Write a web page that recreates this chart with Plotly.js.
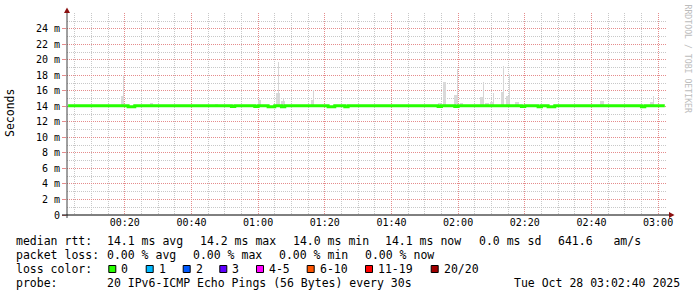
<!DOCTYPE html>
<html><head><meta charset="utf-8">
<script src="https://cdn.plot.ly/plotly-3.0.1.min.js"></script>
<style>html,body{margin:0;padding:0;background:#fff}#chart{width:697px;height:297px}</style>
</head><body><div id="chart"></div>
<script>
// ---------------- data ----------------
const timeTickVals = ['2025-10-28 00:20:00','2025-10-28 00:40:00','2025-10-28 01:00:00','2025-10-28 01:20:00',
  '2025-10-28 01:40:00','2025-10-28 02:00:00','2025-10-28 02:20:00','2025-10-28 02:40:00','2025-10-28 03:00:00'];
const timeTickLabels = ['00:20','00:40','01:00','01:20','01:40','02:00','02:20','02:40','03:00'];
const yTickVals = [0,2,4,6,8,10,12,14,16,18,20,22,24];
const yTickLabels = ['0','2 m','4 m','6 m','8 m','10 m','12 m','14 m','16 m','18 m','20 m','22 m','24 m'];

// median RTT (ms), one value per minute starting 00:03
const medianStart = '2025-10-28 00:03:00';
const medianRtt = [
  14.1,14.1,14.1,14.1,14.1,14.1,14.1,14.1,14.1,14.1,
  14.1,14.1,14.1,14.1,14.1,14.1,14.1,14.1,13.95,13.95,
  14.1,14.1,14.1,14.1,14.1,14.1,14.1,14.1,14.1,14.1,
  14.1,14.1,14.1,14.1,14.1,14.1,14.1,14.1,14.1,14.1,
  14.1,14.1,14.1,14.1,14.1,14.1,14.1,14.1,14.1,14.0,
  14.1,14.1,14.1,14.1,14.1,14.1,14.0,14.1,14.1,14.1,
  13.95,13.95,14.1,14.1,13.95,14.1,14.1,14.1,14.1,14.1,
  14.1,14.1,14.1,14.1,14.1,14.1,14.1,14.1,13.95,13.95,
  14.1,14.1,14.1,13.95,14.1,14.1,14.1,14.1,14.1,14.1,
  14.1,14.1,14.1,14.1,14.1,14.1,14.1,14.1,14.1,14.1,
  14.1,14.1,14.1,14.1,14.1,14.1,14.1,14.1,14.1,14.1,
  14.1,14.0,14.1,14.1,14.1,14.1,14.0,14.1,14.1,14.1,
  14.1,14.1,14.1,14.1,14.1,14.1,14.1,14.1,14.1,14.1,
  14.1,14.1,14.1,14.1,14.1,14.1,14.0,14.1,14.1,14.1,
  14.1,13.95,14.1,14.1,13.95,13.95,14.1,14.1,14.1,14.1,
  14.1,14.1,14.1,14.1,14.1,14.1,14.1,14.1,14.1,14.1,
  14.1,14.1,14.1,14.1,14.1,14.1,14.1,14.1,14.1,14.1,
  14.1,14.1,13.95,14.1,14.1,14.1,14.1,14.1,14.1,14.1
];

// smoke (ping spread, ms): broader low blocks and thin tall spikes
const smokeBase = 14.0;
const smokeBlockTimes = ['2025-10-28 00:19:20','2025-10-28 00:28:00','2025-10-28 00:47:30','2025-10-28 01:00:30',
  '2025-10-28 01:06:00','2025-10-28 01:07:30','2025-10-28 01:16:20','2025-10-28 01:54:30','2025-10-28 01:56:00',
  '2025-10-28 01:59:15','2025-10-28 02:01:00','2025-10-28 02:07:00','2025-10-28 02:08:40','2025-10-28 02:10:00',
  '2025-10-28 02:13:20','2025-10-28 02:15:00','2025-10-28 02:17:40','2025-10-28 02:43:10','2025-10-28 02:58:00'];
const smokeBlockTop = [15.3,14.5,14.3,14.8,15.8,14.7,14.8,14.4,17.1,15.5,14.4,15.2,14.4,14.6,15.9,15.4,14.6,14.7,14.6];
const smokeSpikeTimes = ['2025-10-28 00:19:40','2025-10-28 01:06:10','2025-10-28 01:07:40','2025-10-28 01:16:40',
  '2025-10-28 01:59:50','2025-10-28 02:07:40','2025-10-28 02:10:40','2025-10-28 02:13:40','2025-10-28 02:15:30',
  '2025-10-28 02:58:30'];
const smokeSpikeTop = [18.0,19.7,15.0,16.1,18.9,17.2,15.8,19.2,18.2,15.3];

// legend texts
const statsRtt = ['median rtt:','14.1 ms avg','14.2 ms max','14.0 ms min','14.1 ms now','0.0 ms sd','641.6   am/s'];
const statsLoss = ['packet loss:','0.00 % avg','0.00 % max','0.00 % min','0.00 % now'];
const lossLabels = ['0','1','2','3','4-5','6-10','11-19','20/20'];
const lossColors = ['#26ff00','#00b8ff','#0059ff','#5e00ff','#ff00ff','#ff5500','#ff0000','#a10000'];
const probeText = ['probe:','20 IPv6-ICMP Echo Pings (56 Bytes) every 30s'];
const dateText = 'Tue Oct 28 03:02:40 2025';

// ---------------- layout helpers ----------------
const L = 67, R = 667, T = 13, B = 215;
const px = x => (x - L) / (R - L);
const py = y => (B - y) / (B - T);
const MONO = 'DejaVu Sans Mono';
function txt(s, x, y, extra) {
  return Object.assign({text: s, xref: 'paper', yref: 'paper', x: px(x), y: py(y),
    xanchor: 'left', yanchor: 'middle', showarrow: false, borderpad: 0, borderwidth: 0,
    font: {family: MONO, size: 11.5, color: '#000'}}, extra || {});
}

const traces = [
  {type: 'bar', x: smokeBlockTimes, y: smokeBlockTop.map(v => v - smokeBase), base: smokeBase,
   width: 60000, marker: {color: '#d9d9d9', line: {width: 0}}, hoverinfo: 'skip'},
  {type: 'bar', x: smokeSpikeTimes, y: smokeSpikeTop.map(v => v - smokeBase), base: smokeBase,
   width: 22000, marker: {color: '#d6d6d6', line: {width: 0}}, hoverinfo: 'skip'},
  {type: 'scatter', mode: 'lines', x0: medianStart, dx: 60000, y: medianRtt,
   line: {shape: 'hv', color: '#26ff00', width: 3}, hoverinfo: 'skip'}
];

const annotations = [];
const rttX = [16, 107.3, 200, 292.5, 385, 478.5, 557.8];
statsRtt.forEach((s, i) => annotations.push(txt(s, rttX[i], 241)));
const lossX = [16, 107.3, 193.3, 279.3, 365];
statsLoss.forEach((s, i) => annotations.push(txt(s, lossX[i], 255)));
annotations.push(txt('loss color:', 16, 269));
const boxX = [108.3, 145.7, 182.7, 219.3, 256, 306.7, 365, 430.7];
const shapes = [];
lossLabels.forEach((s, i) => {
  annotations.push(txt(s, boxX[i] + 13, 269));
  shapes.push({type: 'rect', xref: 'paper', yref: 'paper', x0: px(boxX[i] + 0.5), x1: px(boxX[i] + 7.5),
    y0: py(265.5), y1: py(272.5), fillcolor: lossColors[i], line: {color: '#000', width: 1}});
});
annotations.push(txt(probeText[0], 16, 283));
annotations.push(txt(probeText[1], 107.3, 283));
annotations.push(txt(dateText, 680, 283, {xanchor: 'right'}));
annotations.push(txt('Seconds', 10, 113, {xanchor: 'center', textangle: -90, font: {family: MONO, size: 11.5, color: '#000'}}));
annotations.push(txt('RRDTOOL / TOBI OETIKER', 687.5, 59, {xanchor: 'center', textangle: 90, font: {family: MONO, size: 8.2, color: '#bcbcbc'}}));

// axis lines and arrows
shapes.push({type: 'line', xref: 'paper', yref: 'paper', x0: px(67), x1: px(67), y0: py(218), y1: py(11), line: {color: '#404040', width: 1}});
shapes.push({type: 'line', xref: 'paper', yref: 'paper', x0: px(62), x1: px(670), y0: py(215), y1: py(215), line: {color: '#000', width: 1}});
shapes.push({type: 'path', xref: 'paper', yref: 'paper',
  path: `M ${px(64)} ${py(13)} L ${px(67)} ${py(7.5)} L ${px(70)} ${py(13)} Z`, fillcolor: '#8b1010', line: {width: 0}});
shapes.push({type: 'path', xref: 'paper', yref: 'paper',
  path: `M ${px(669)} ${py(212)} L ${px(674.5)} ${py(215)} L ${px(669)} ${py(218)} Z`, fillcolor: '#8b1010', line: {width: 0}});

const MAJOR = '#e58c8c', MINOR = '#c8c8c8';
const layout = {
  width: 697, height: 297,
  margin: {l: L, r: 697 - R, t: T, b: 297 - B, pad: 0},
  paper_bgcolor: '#fff', plot_bgcolor: '#fff',
  showlegend: false, barmode: 'overlay', bargap: 0,
  font: {family: MONO, color: '#000'},
  xaxis: {type: 'date', range: ['2025-10-28 00:02:40', '2025-10-28 03:02:40'],
    tickmode: 'array', tickvals: timeTickVals, ticktext: timeTickLabels,
    tickfont: {family: MONO, size: 10, color: '#000'}, ticks: '',
    showgrid: true, gridcolor: MAJOR, griddash: '1px,1px', gridwidth: 1,
    minor: {tick0: '2025-10-28 00:00:00', dtick: 300000, showgrid: true, gridcolor: MINOR, griddash: '1px,1px', ticks: ''},
    showline: false, zeroline: false, fixedrange: true},
  yaxis: {range: [0, 26.06], tickmode: 'array', tickvals: yTickVals, ticktext: yTickLabels,
    tickfont: {family: MONO, size: 10, color: '#000'}, ticks: 'outside', ticklen: 4, tickcolor: MAJOR,
    showgrid: true, gridcolor: MAJOR, griddash: '1px,1px', gridwidth: 1,
    minor: {tick0: 0, dtick: 1, showgrid: true, gridcolor: MINOR, griddash: '1px,1px', ticks: ''},
    showline: false, zeroline: false, fixedrange: true},
  annotations: annotations,
  shapes: shapes
};

Plotly.newPlot('chart', traces, layout, {staticPlot: true, displayModeBar: false});
</script>
</body></html>
